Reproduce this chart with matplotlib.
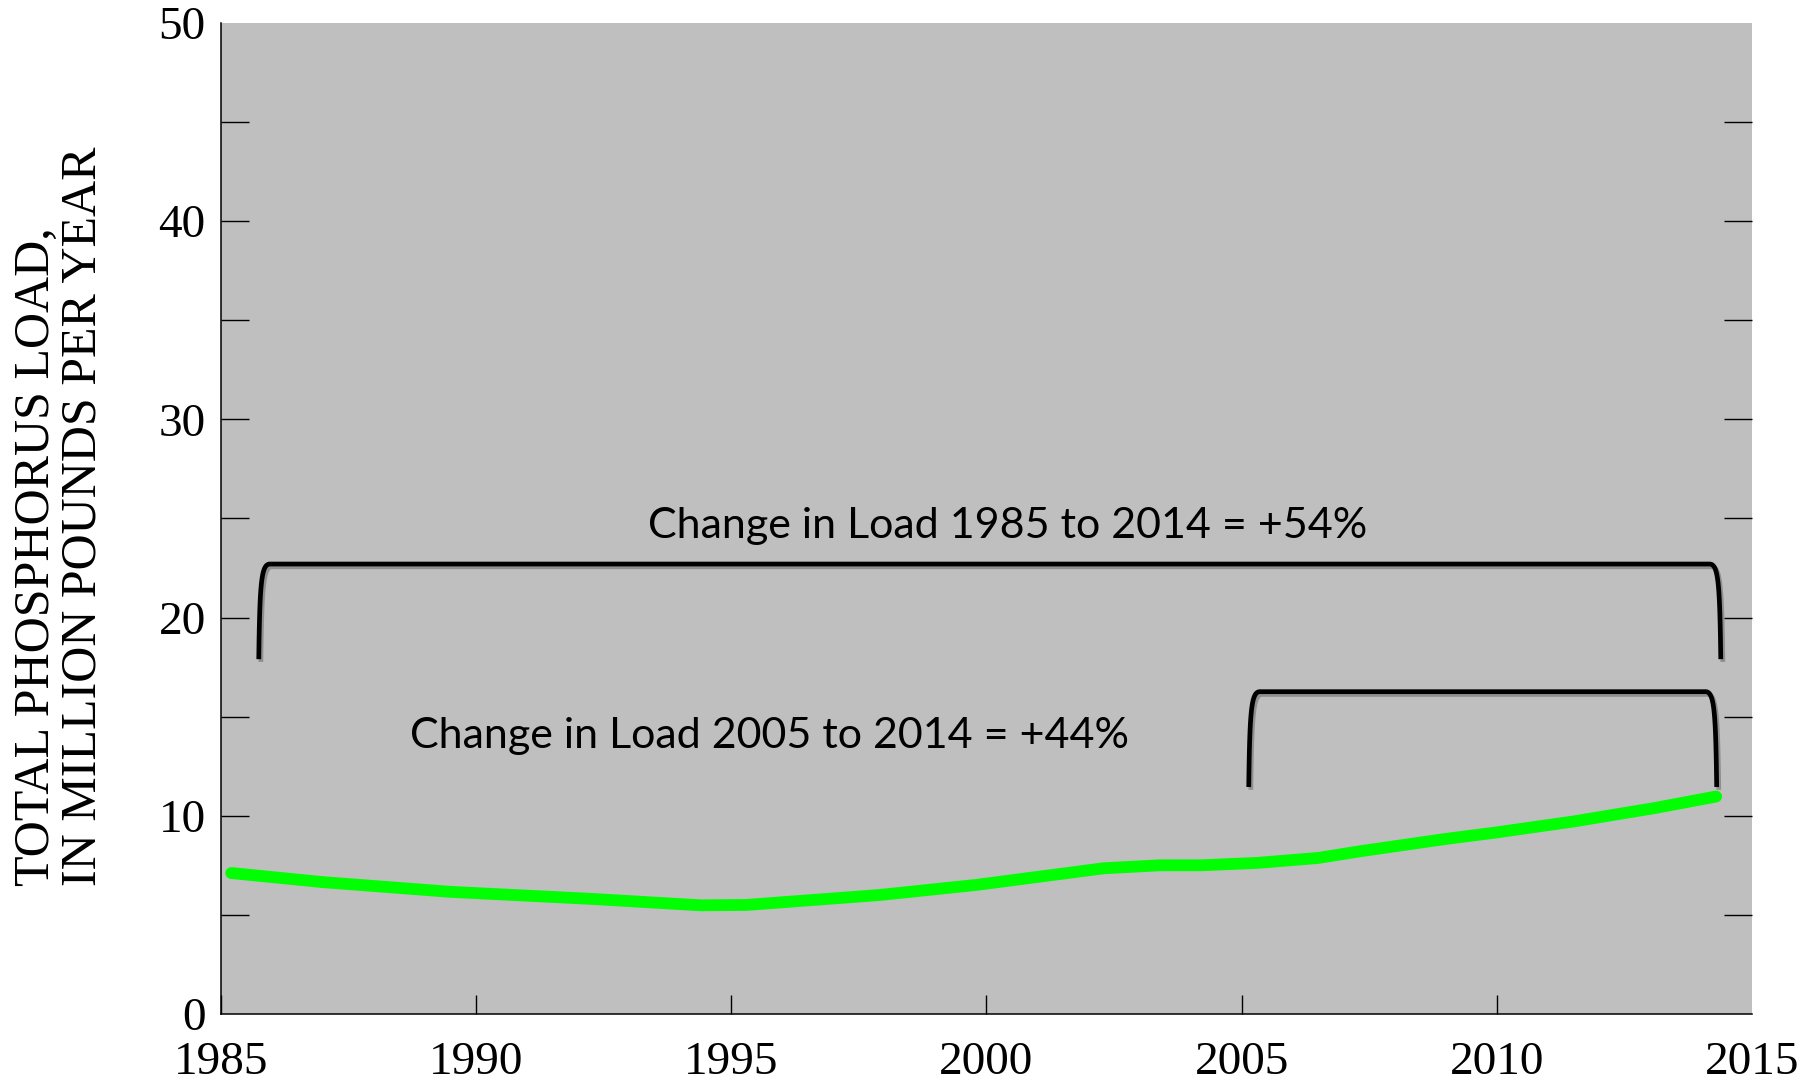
import numpy as np
import matplotlib.pyplot as plt
import matplotlib.patheffects as pe

# Total phosphorus load
years = [1985.2, 1987.0, 1989.5, 1992.3, 1994.4, 1995.3, 1997.9, 1999.8, 2002.3,
         2003.4, 2004.2, 2005.3, 2006.5, 2007.3, 2009.0, 2010.0, 2011.5, 2013.1, 2014.3]
load = [7.11, 6.65, 6.16, 5.80, 5.48, 5.50, 6.00, 6.51, 7.35,
        7.50, 7.50, 7.62, 7.87, 8.20, 8.83, 9.16, 9.71, 10.39, 10.97]

# Brackets: start year, end year, bottom, top
bracket_start = [1985.74, 2005.14]
bracket_end = [2014.39, 2014.31]
bracket_bottom = [17.9, 11.45]
bracket_top = [22.7, 16.26]
bracket_text = ["Change in Load 1985 to 2014 = +54%", "Change in Load 2005 to 2014 = +44%"]
text_x = [2000.42, 1995.74]
text_y = [24.0, 13.42]

x_ticks = [1985, 1990, 1995, 2000, 2005, 2010, 2015]
y_ticks = [0, 10, 20, 30, 40, 50]
y_minor = [5, 15, 25, 35, 45]

serif = "Liberation Serif"


def bezier(p0, p1, p2, p3, n=40):
    t = np.linspace(0, 1, n)[:, None]
    pts = ((1 - t) ** 3) * np.array(p0) + 3 * ((1 - t) ** 2) * t * np.array(p1) \
        + 3 * (1 - t) * t ** 2 * np.array(p2) + t ** 3 * np.array(p3)
    return pts


def bracket_xy(x0, x1, b, t):
    dx = 0.22
    left = bezier((x0, b), (x0 + 0.02, t - 0.9), (x0 + 0.05, t), (x0 + dx, t))
    right = bezier((x1 - dx, t), (x1 - 0.05, t), (x1 - 0.02, t - 0.9), (x1, b))
    pts = np.vstack([left, right])
    return pts[:, 0], pts[:, 1]


fig = plt.figure(figsize=(18.16, 10.87), dpi=100)
ax = fig.add_axes([0.1217, 0.0672, 0.843, 0.9117])
ax.set_facecolor("#bfbfbf")

ax.plot(years, load, color="#00ff00", linewidth=8.5, solid_capstyle="round",
        solid_joinstyle="round", zorder=3)

for i in range(len(bracket_start)):
    bx, by = bracket_xy(bracket_start[i], bracket_end[i], bracket_bottom[i], bracket_top[i])
    ax.plot(bx, by, color="black", linewidth=3.4, solid_capstyle="butt", zorder=4,
            path_effects=[pe.SimpleLineShadow(offset=(1.5, -2), shadow_color="black", alpha=0.25),
                          pe.Normal()])
    ax.text(text_x[i], text_y[i], bracket_text[i], ha="center", va="baseline",
            fontsize=31, family="Lato", color="black", zorder=5)

ax.set_xlim(1985, 2015)
ax.set_ylim(0, 50)

ax.set_xticks(x_ticks)
ax.set_xticklabels([str(v) for v in x_ticks], family=serif, fontsize=34)
ax.set_yticks(y_ticks)
ax.set_yticklabels([str(v) for v in y_ticks], family=serif, fontsize=34)
ax.set_yticks(y_minor, minor=True)

ax.tick_params(axis="x", direction="in", length=14, width=1.0, pad=20, colors="black")
ax.tick_params(axis="y", which="both", direction="in", length=20, width=1.0,
               left=True, right=True, pad=11)

# hide ticks that fall on the plot edges
ax.xaxis.get_major_ticks()[-1].tick1line.set_visible(False)
for k in (0, -1):
    ax.yaxis.get_major_ticks()[k].tick1line.set_visible(False)
    ax.yaxis.get_major_ticks()[k].tick2line.set_visible(False)

for side in ["top", "right"]:
    ax.spines[side].set_visible(False)
for side in ["left", "bottom"]:
    ax.spines[side].set_linewidth(1.1)

fig.text(0.033, 0.185, "TOTAL PHOSPHORUS LOAD,\nIN MILLION POUNDS PER YEAR",
         rotation=90, ha="center", va="bottom", multialignment="left",
         family=serif, fontsize=36, linespacing=1.0)

plt.savefig("out.png", dpi=100)
